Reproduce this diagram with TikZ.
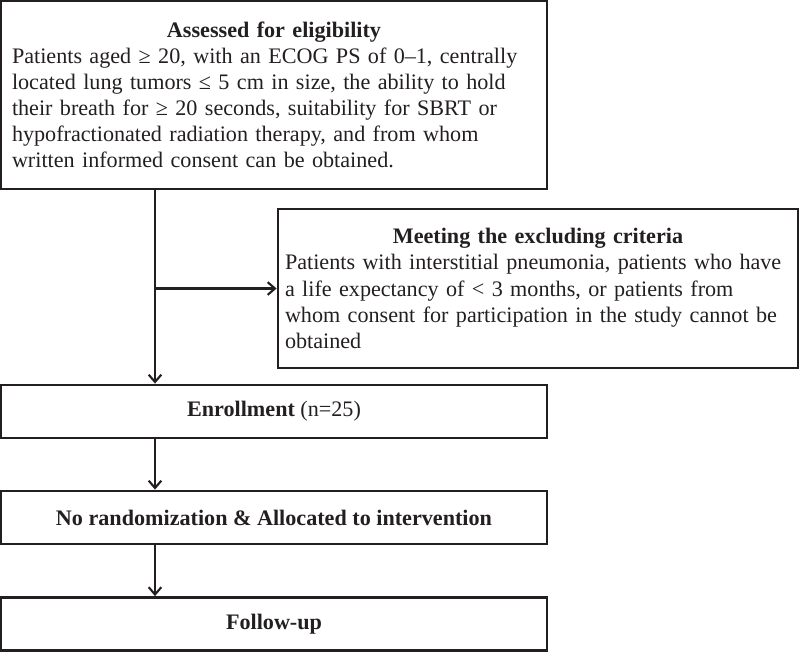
\documentclass[tikz,border=0pt]{standalone}
\usepackage{fontspec}
\setmainfont{Liberation Serif}
\usetikzlibrary{arrows.meta}
\definecolor{ink}{HTML}{231F20}
\newcommand{\boxfont}{\fontsize{18.9}{22.3}\selectfont}
\newcommand{\ctitle}[1]{\makebox[\hsize]{\bfseries #1}}
\tikzset{
  box/.style={draw=ink, text=ink, line width=2.4pt, inner sep=0pt, font=\boxfont},
  wide/.style={box, minimum width=16.38cm, minimum height=1.59cm},
  flow/.style={draw=ink, line width=1.8pt, -{Straight Barb[length=0.22cm,width=0.38cm]}}
}
\begin{document}
\begin{tikzpicture}
  \useasboundingbox (0,0) rectangle (23.97,-19.56);
  \node[wide, minimum height=5.64cm, text width=15.72cm, align=left] (elig) at (8.22,-2.85)
    {\ctitle{Assessed for eligibility}\\
     Patients aged ≥ 20, with an ECOG PS of 0–1, centrally\\
     located lung tumors ≤ 5 cm in size, the ability to hold\\
     their breath for ≥ 20 seconds, suitability for SBRT or\\
     hypofractionated radiation therapy, and from whom\\
     written informed consent can be obtained.};
  \node[box, minimum width=15.6cm, minimum height=4.77cm, text width=15.18cm, align=left] (excl) at (16.14,-8.655)
    {\ctitle{Meeting the excluding criteria}\\
     Patients with interstitial pneumonia, patients who have\\
     a life expectancy of < 3 months, or patients from\\
     whom consent for participation in the study cannot be\\
     obtained};
  \node[wide] (enrol) at (8.22,-12.345) {\textbf{Enrollment} (n=25)};
  \node[wide] (alloc) at (8.22,-15.525) {\textbf{No randomization \& Allocated to intervention}};
  \node[wide] (follow) at (8.22,-18.72) {\textbf{Follow-up}};
  \coordinate (trunk) at (4.65,0);
  \draw[flow] (trunk |- elig.south) -- (trunk |- enrol.north);
  \draw[flow] (trunk |- excl.west) -- (excl.west);
  \draw[flow] (trunk |- enrol.south) -- (trunk |- alloc.north);
  \draw[flow] (trunk |- alloc.south) -- (trunk |- follow.north);
\end{tikzpicture}
\end{document}
